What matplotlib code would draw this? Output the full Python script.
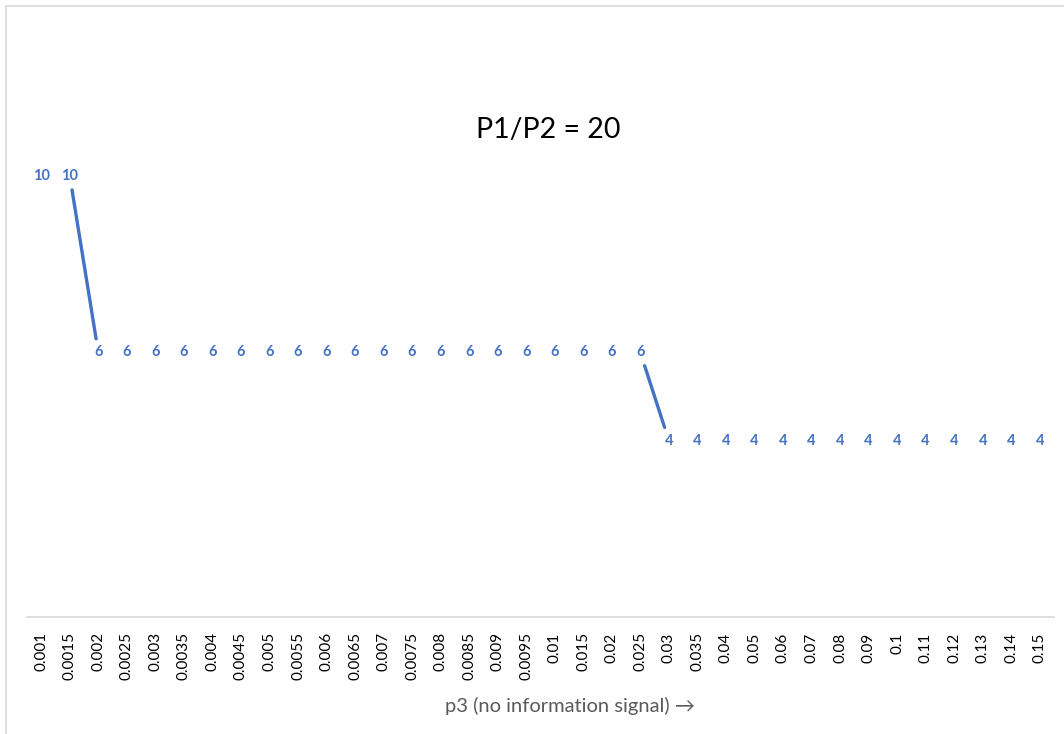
import matplotlib.pyplot as plt
import numpy as np
from matplotlib.lines import Line2D

# category labels along the x axis
p3 = ["0.001", "0.0015", "0.002", "0.0025", "0.003", "0.0035", "0.004", "0.0045",
      "0.005", "0.0055", "0.006", "0.0065", "0.007", "0.0075", "0.008", "0.0085",
      "0.009", "0.0095", "0.01", "0.015", "0.02", "0.025", "0.03", "0.035",
      "0.04", "0.05", "0.06", "0.07", "0.08", "0.09", "0.1", "0.11", "0.12",
      "0.13", "0.14", "0.15"]
values = [10, 10,
          6, 6, 6, 6, 6, 6, 6, 6, 6, 6, 6, 6, 6, 6, 6, 6, 6, 6, 6, 6,
          4, 4, 4, 4, 4, 4, 4, 4, 4, 4, 4, 4, 4, 4]

blue = "#4472C4"
plt.rcParams['font.family'] = ['Lato', 'DejaVu Sans']

fig = plt.figure(figsize=(10.64, 7.34), dpi=100)
ax = fig.add_axes([27 / 1064, 1 - 617 / 734, (1054 - 27) / 1064, (617 - 88) / 734])

x = np.arange(len(p3))
ax.set_xlim(-0.5, len(p3) - 0.5)
ax.set_ylim(0, 12)

# only the steps of the line are visible, trimmed short of the labels
for i in range(len(values) - 1):
    if values[i] != values[i + 1]:
        ax.annotate("", xy=(x[i + 1], values[i + 1]), xytext=(x[i], values[i]),
                    arrowprops=dict(arrowstyle="-", color=blue, lw=2.4,
                                    shrinkA=10, shrinkB=10))

for xi, v in zip(x, values):
    ax.text(xi, v, str(v), ha="center", va="center", color=blue,
            fontsize=10.5, fontweight="bold")

ax.set_xticks(x)
ax.set_xticklabels(p3, rotation=90, fontsize=11)
ax.tick_params(axis="x", length=0, pad=11, colors="black")
ax.set_yticks([])
for s in ["top", "right", "left"]:
    ax.spines[s].set_visible(False)
ax.spines["bottom"].set_color("#D9D9D9")
ax.spines["bottom"].set_linewidth(1.2)

fig.text(548 / 1064, 1 - 130 / 734, "P1/P2 = 20", ha="center", va="center", fontsize=20.5)
fig.text(570 / 1064, 1 - 706 / 734, "p3 (no information signal) \u2192",
         ha="center", va="center", fontsize=14.5, color="#595959")

# chart area border (top and left edges visible)
fig.add_artist(Line2D([6 / 1064, 1], [1 - 6 / 734, 1 - 6 / 734], color="#D9D9D9", lw=1.2,
                      transform=fig.transFigure))
fig.add_artist(Line2D([6 / 1064, 6 / 1064], [0, 1 - 6 / 734], color="#D9D9D9", lw=1.2,
                      transform=fig.transFigure))

fig.savefig("out.png", dpi=100)
